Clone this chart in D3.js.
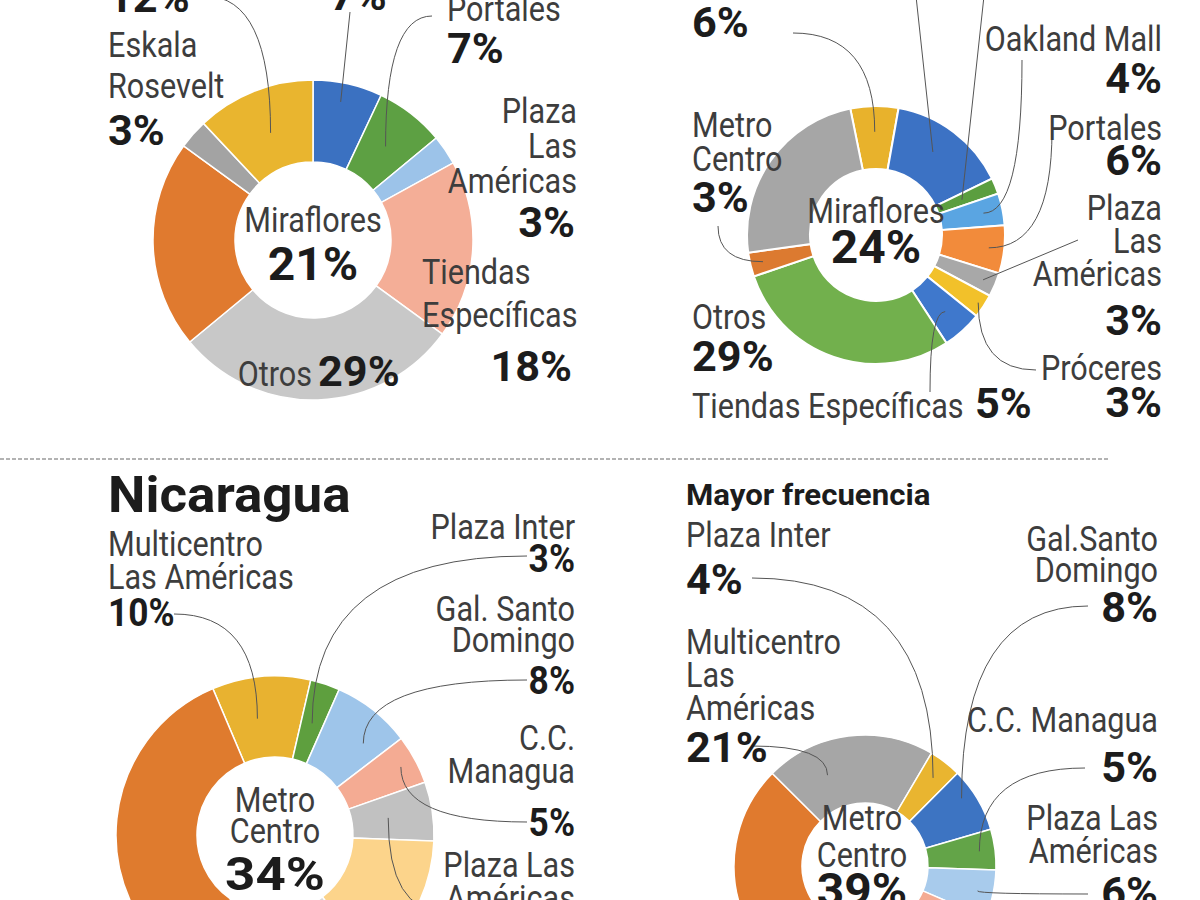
<!DOCTYPE html>
<html>
<head>
<meta charset="utf-8">
<script src="https://cdn.jsdelivr.net/npm/d3@7"></script>
<style>
  html, body { margin: 0; padding: 0; background: #ffffff; }
  svg { display: block; }
</style>
</head>
<body>
<svg id="chart" width="1200" height="900"></svg>
<script>
// ================= DATA =================
// Guatemala – general (top-left). Last slice's name is cut off at the top of the picture.
const gtMalls  = ["Oakland Mall", "Portales", "Plaza Las Américas", "Tiendas Específicas", "Otros", "Miraflores", "Eskala Rosevelt", "(nombre recortado)"];
const gtShare  = [7, 7, 3, 18, 29, 21, 3, 12];

// Guatemala – mayor frecuencia (top-right). First three names are cut off; 15 and 2.
const gtFreqMalls = ["(recortado A)", "(recortado B)", "(recortado C)", "Oakland Mall", "Portales", "Plaza Las Américas", "Próceres", "Tiendas Específicas", "Otros", "Metro Centro", "Miraflores"];
const gtFreqShare = [6, 15, 2, 4, 6, 3, 3, 5, 29, 3, 24];

// Nicaragua – general (bottom-left). Two slices lie below the crop; their values are estimates.
const niMalls  = ["Multicentro Las Américas", "Plaza Inter", "Gal. Santo Domingo", "C.C. Managua", "Plaza Las Américas", "(fuera de cuadro 1)", "(fuera de cuadro 2)", "Metro Centro"];
const niShare  = [10, 3, 8, 5, 6, 14, 20, 34];

// Nicaragua – mayor frecuencia (bottom-right). Two slices lie below the crop; their values are estimates.
const niFreqMalls = ["Multicentro Las Américas", "Plaza Inter", "Gal.Santo Domingo", "C.C. Managua", "Plaza Las Américas", "(fuera de cuadro 1)", "(fuera de cuadro 2)", "Metro Centro"];
const niFreqShare = [21, 4, 8, 5, 6, 10, 7, 39];

const panelTitles = ["Nicaragua", "Mayor frecuencia"];

// ================= STYLES =================
const FONT = "Roboto, 'DejaVu Sans', sans-serif";
const NAME  = { size: 36, weight: 400, sx: 0.85, fill: "#3d3d3d" };
const PCT   = { size: 42, weight: 700, sx: 1.03, fill: "#1c1c1c" };
const PCTS  = { size: 38, weight: 700, sx: 0.93, fill: "#1c1c1c" };
const PCTC  = { size: 47, weight: 700, sx: 1.02, fill: "#1c1c1c" };
const PCTB  = { size: 46, weight: 700, sx: 1.15, fill: "#1c1c1c" };
const TITLE = { size: 50, weight: 700, sx: 1.06, fill: "#1c1c1c" };
const SUB   = { size: 30, weight: 700, sx: 1.04, fill: "#1c1c1c" };

const colorsTL = ["#3b71c1", "#5da043", "#9cc3e9", "#f4ae97", "#c8c8c8", "#e07a2f", "#a3a3a3", "#e9b52f"];
const colorsTR = ["#e8b22c", "#3c72c4", "#5b9e3f", "#5aa5e2", "#f28b3b", "#a8a8a8", "#f2c12a", "#3f78cc", "#72b04d", "#dc7a30", "#a6a6a6"];
const colorsBL = ["#e8b230", "#5e9f3e", "#9ec5ea", "#f4ab93", "#c1c1c1", "#fcd48b", "#d9d9d9", "#df7b2e"];
const colorsBR = ["#a6a6a6", "#e9b530", "#3d74c2", "#63a448", "#a8cbec", "#f4ab93", "#c9c9c9", "#e07a2e"];

// ================= LAYOUT =================
const panels = [
  { cats: gtMalls, vals: gtShare, colors: colorsTL, cx: 313, cy: 240, R: 160, r: 78, start: 0, sw: 1.5,
    labels: [
      { i: 7, pct: { x: 108, y: 12, a: "start" }, leader: { from: [205, -4], mode: "h", rk: 0.72, at: 0.5 } },
      { i: 0, pct: { x: 330, y: 10, a: "start" }, leader: { from: [350, 12], mode: "s", rk: 0.88, at: 0.45 } },
      { i: 1, name: { x: 447, y: 21, a: "start", br: [1], lh: 0 }, pct: { x: 447, y: 63, a: "start" },
        leader: { from: [432, 16], mode: "h", rk: 0.74, at: 0.5 } },
      { i: 6, name: { x: 108, y: 57, a: "start", br: [1, 1], lh: 41 }, pct: { x: 108, y: 145, a: "start" } },
      { i: 2, name: { x: 577, y: 123, a: "end", br: [1, 1, 1], lh: 35 }, pct: { x: 575, y: 237, a: "end" } },
      { i: 3, name: { x: 422, y: 284, a: "start", br: [1, 1], lh: 43 }, pct: { x: 572, y: 381, a: "end" } },
      { i: 4, name: { x: 312, y: 386, a: "end", br: [1], lh: 0 }, pct: { x: 318, y: 386, a: "start" } },
      { i: 5, name: { x: 313, y: 232, a: "middle", br: [1], lh: 0 }, pct: { x: 313, y: 280, a: "middle", st: PCTC } }
    ] },
  { cats: gtFreqMalls, vals: gtFreqShare, colors: colorsTR, cx: 876, cy: 235, R: 129, r: 66, start: -11.5, sw: 2,
    labels: [
      { i: 0, pct: { x: 692, y: 37, a: "start" }, leader: { from: [793, 33], mode: "h", rk: 0.8, at: 0.5 } },
      { i: 1, leader: { from: [916, -4], mode: "s", rk: 0.78, at: 0.45 } },
      { i: 2, leader: { from: [984, -4], mode: "s", rk: 0.72, at: 0.5 } },
      { i: 3, name: { x: 1162, y: 51, a: "end", br: [2], lh: 0 }, pct: { x: 1162, y: 93, a: "end" },
        leader: { from: [1022, 60], mode: "v", rk: 0.85, at: 0.5 } },
      { i: 4, name: { x: 1162, y: 140, a: "end", br: [1], lh: 0 }, pct: { x: 1162, y: 175, a: "end" },
        leader: { from: [1052, 130], mode: "v", rk: 0.88, at: 0.5 } },
      { i: 5, name: { x: 1162, y: 220, a: "end", br: [1, 1, 1], lh: 33 }, pct: { x: 1162, y: 335, a: "end" },
        leader: { from: [1078, 240], mode: "s", rk: 0.9, at: 0.5 } },
      { i: 6, name: { x: 1162, y: 380, a: "end", br: [1], lh: 0 }, pct: { x: 1162, y: 417, a: "end" },
        leader: { from: [1036, 370], mode: "h", rk: 0.95, at: 0.5 } },
      { i: 7, name: { x: 692, y: 418, a: "start", br: [2], lh: 0 }, pct: { x: 975, y: 418, a: "start" },
        leader: { from: [930, 392], mode: "v", rk: 0.8, at: 0.5 } },
      { i: 8, name: { x: 692, y: 329, a: "start", br: [1], lh: 0 }, pct: { x: 692, y: 371, a: "start" } },
      { i: 9, name: { x: 692, y: 137, a: "start", br: [1, 1], lh: 34 }, pct: { x: 692, y: 212, a: "start" },
        leader: { from: [718, 226], mode: "v", rk: 0.9, at: 0.5 } },
      { i: 10, name: { x: 876, y: 223, a: "middle", br: [1], lh: 0 }, pct: { x: 876, y: 263, a: "middle", st: PCTC } }
    ] },
  { cats: niMalls, vals: niShare, colors: colorsBL, cx: 275, cy: 835, R: 159, r: 78, start: -23, sw: 1.5,
    title: { t: 0, x: 108, y: 512, st: TITLE },
    labels: [
      { i: 0, name: { x: 108, y: 556, a: "start", br: [1, 2], lh: 33 }, pct: { x: 108, y: 626, a: "start", st: PCTS },
        leader: { from: [174, 614], mode: "h", rk: 0.74, at: 0.4 } },
      { i: 1, name: { x: 575, y: 539, a: "end", br: [2], lh: 0 }, pct: { x: 575, y: 572, a: "end", st: PCTS },
        leader: { from: [527, 556], mode: "h", rk: 0.74, at: 0.5 } },
      { i: 2, name: { x: 575, y: 621, a: "end", br: [2, 1], lh: 31 }, pct: { x: 575, y: 694, a: "end", st: PCTS },
        leader: { from: [527, 680], mode: "h", rk: 0.8, at: 0.7 } },
      { i: 3, name: { x: 575, y: 750, a: "end", br: [1, 1], lh: 33 }, pct: { x: 575, y: 836, a: "end", st: PCTS },
        leader: { from: [527, 822], mode: "h", rk: 0.9, at: 0.5 } },
      { i: 4, name: { x: 575, y: 877, a: "end", br: [2, 1], lh: 33 }, pct: { x: 575, y: 952, a: "end", st: PCTS },
        leader: { from: [445, 912], mode: "h", rk: 0.72, at: 0.5 } },
      { i: 7, name: { x: 275, y: 812, a: "middle", br: [1, 1], lh: 31 }, pct: { x: 275, y: 890, a: "middle", st: PCTB } }
    ] },
  { cats: niFreqMalls, vals: niFreqShare, colors: colorsBR, cx: 865, cy: 866, R: 131, r: 63, start: -45.1, sw: 1.5,
    title: { t: 1, x: 686, y: 505, st: SUB },
    labels: [
      { i: 1, name: { x: 686, y: 547, a: "start", br: [2], lh: 0 }, pct: { x: 686, y: 594, a: "start" },
        leader: { from: [752, 578], mode: "h", rk: 0.85, at: 0.5 } },
      { i: 0, name: { x: 686, y: 654, a: "start", br: [1, 1, 1], lh: 33 }, pct: { x: 686, y: 762, a: "start" },
        leader: { from: [752, 746], mode: "h", rk: 0.75, at: 0.3 } },
      { i: 2, name: { x: 1158, y: 551, a: "end", br: [1, 1], lh: 31 }, pct: { x: 1158, y: 622, a: "end" },
        leader: { from: [1088, 606], mode: "h", rk: 0.9, at: 0.35 } },
      { i: 3, name: { x: 1158, y: 732, a: "end", br: [2], lh: 0 }, pct: { x: 1158, y: 782, a: "end" },
        leader: { from: [1085, 768], mode: "h", rk: 0.88, at: 0.5 } },
      { i: 4, name: { x: 1158, y: 830, a: "end", br: [2, 1], lh: 33 }, pct: { x: 1158, y: 907, a: "end" },
        leader: { from: [1088, 894], mode: "h", rk: 0.88, at: 0.5 } },
      { i: 7, name: { x: 862, y: 830, a: "middle", br: [1, 1], lh: 37 }, pct: { x: 862, y: 906, a: "middle", st: PCTC } }
    ] }
];

// ================= DRAW =================
const svg = d3.select("#chart");
svg.append("rect").attr("width", 1200).attr("height", 900).attr("fill", "#ffffff");

function txt(g, x, y, s, st, anchor) {
  g.append("text")
    .attr("transform", `translate(${x},${y}) scale(${st.sx},1)`)
    .attr("text-anchor", anchor || "start")
    .attr("font-family", FONT)
    .attr("font-size", st.size)
    .attr("font-weight", st.weight)
    .attr("fill", st.fill)
    .text(s);
}

// dashed divider between the two rows
svg.append("line")
  .attr("x1", 0).attr("x2", 1110).attr("y1", 459).attr("y2", 459)
  .attr("stroke", "#9a9a9a").attr("stroke-width", 1.6).attr("stroke-dasharray", "4,2");

panels.forEach(p => {
  const g = svg.append("g");
  const a0 = p.start * Math.PI / 180;
  const pie = d3.pie().sort(null).value(d => d).startAngle(a0).endAngle(a0 + 2 * Math.PI);
  const arcs = pie(p.vals);
  const arc = d3.arc().innerRadius(p.r).outerRadius(p.R);

  g.append("g").attr("transform", `translate(${p.cx},${p.cy})`)
    .selectAll("path").data(arcs).join("path")
    .attr("d", arc)
    .attr("fill", (d, i) => p.colors[i])
    .attr("stroke", "#ffffff")
    .attr("stroke-width", p.sw);

  // leader lines
  p.labels.forEach(L => {
    if (!L.leader) return;
    const a = arcs[L.i];
    const ang = a.startAngle + L.leader.at * (a.endAngle - a.startAngle);
    const [ex, ey] = d3.pointRadial(ang, L.leader.rk * p.R);
    const tx = p.cx + ex, ty = p.cy + ey;
    const [fx, fy] = L.leader.from;
    const path = d3.path();
    path.moveTo(fx, fy);
    if (L.leader.mode === "h") path.quadraticCurveTo(tx, fy, tx, ty);
    else if (L.leader.mode === "v") path.quadraticCurveTo(fx, ty, tx, ty);
    else path.lineTo(tx, ty);
    g.append("path").attr("d", path.toString())
      .attr("fill", "none").attr("stroke", "#555555").attr("stroke-width", 1);
  });

  // labels
  p.labels.forEach(L => {
    if (L.name) {
      const words = p.cats[L.i].split(" ");
      let k = 0;
      L.name.br.forEach((n, j) => {
        const line = words.slice(k, k + n).join(" ");
        k += n;
        txt(g, L.name.x, L.name.y + j * L.name.lh, line, NAME, L.name.a);
      });
    }
    if (L.pct) txt(g, L.pct.x, L.pct.y, p.vals[L.i] + "%", L.pct.st || PCT, L.pct.a);
  });

  if (p.title) txt(g, p.title.x, p.title.y, panelTitles[p.title.t], p.title.st, "start");
});
</script>
</body>
</html>
